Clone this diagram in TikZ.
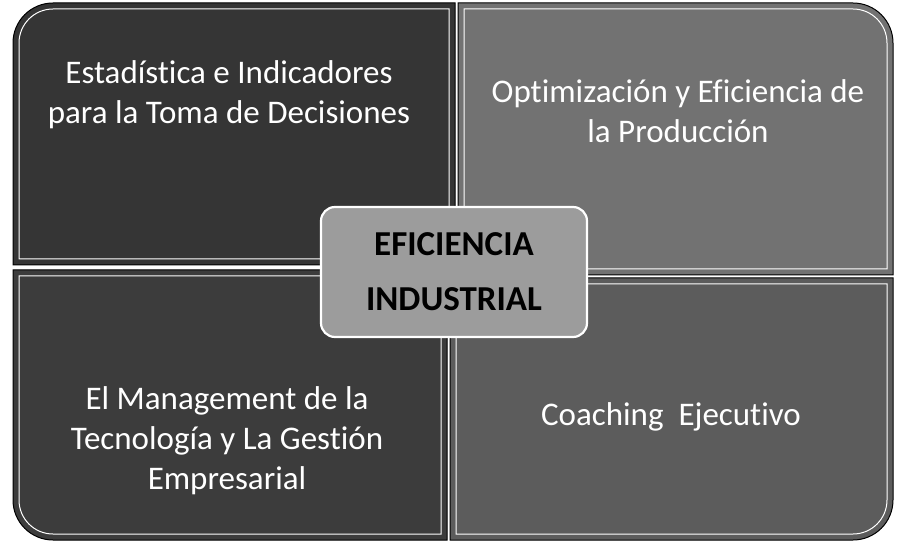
\documentclass[tikz,border=0pt]{standalone}
\usepackage{fontspec}
\setmainfont{Carlito}[Ligatures=NoCommon]
\definecolor{quadA}{HTML}{353535}
\definecolor{quadB}{HTML}{727272}
\definecolor{quadC}{HTML}{3C3C3C}
\definecolor{quadD}{HTML}{5C5C5C}
\definecolor{coreGray}{HTML}{9C9C9C}
\begin{document}
\begin{tikzpicture}[x=1pt, y=-1pt,
    quad/.style={draw=black, line width=1pt},
    inset/.style={draw=white, line width=1pt},
    qtext/.style={text=white, align=center, inner sep=0pt, font=\fontsize{33}{40}\selectfont},
    core/.style={rounded corners=14pt, fill=coreGray, draw=white, line width=2.2pt,
        minimum width=266pt, minimum height=130pt, align=center,
        font=\bfseries\fontsize{35}{55}\selectfont}]
        \useasboundingbox (0,0) rectangle (903,545);

        % the four quarters
        \fill[quad, fill=quadA] (455,265) -- (13,265) -- (13,43) arc[start angle=180, end angle=270, radius=40] -- (455,3) -- cycle;
        \fill[quad, fill=quadB] (458,275) -- (458,3) -- (853,3) arc[start angle=270, end angle=360, radius=40] -- (893,275) -- cycle;
        \fill[quad, fill=quadC] (447,270) -- (13,270) -- (13,500) arc[start angle=180, end angle=90, radius=40] -- (447,540) -- cycle;
        \fill[quad, fill=quadD] (450,278) -- (893,278) -- (893,500) arc[start angle=0, end angle=90, radius=40] -- (450,540) -- cycle;

        \draw[inset] (449,259) -- (19,259) -- (19,43) arc[start angle=180, end angle=270, radius=34] -- (449,9) -- cycle;
        \draw[inset] (464,269) -- (464,9) -- (853,9) arc[start angle=270, end angle=360, radius=34] -- (887,269) -- cycle;
        \draw[inset] (441,276) -- (19,276) -- (19,500) arc[start angle=180, end angle=90, radius=34] -- (441,534) -- cycle;
        \draw[inset] (456,284) -- (887,284) -- (887,500) arc[start angle=0, end angle=90, radius=34] -- (456,534) -- cycle;

        \node[qtext] (stat) at (229, 95) {Estadística e Indicadores\\para la Toma de Decisiones};
        \node[qtext] (prod) at (678, 111) {Optimización y Eficiencia de\\la Producción};
        \node[qtext] (mgmt) at (227, 441) {El Management de la\\Tecnología y La Gestión\\Empresarial};
        \node[qtext] (coach) at (671, 417) {Coaching\ \ Ejecutivo};

        \node[core] (core) at (454, 272) {EFICIENCIA\\INDUSTRIAL};

        \end{tikzpicture}
\end{document}
